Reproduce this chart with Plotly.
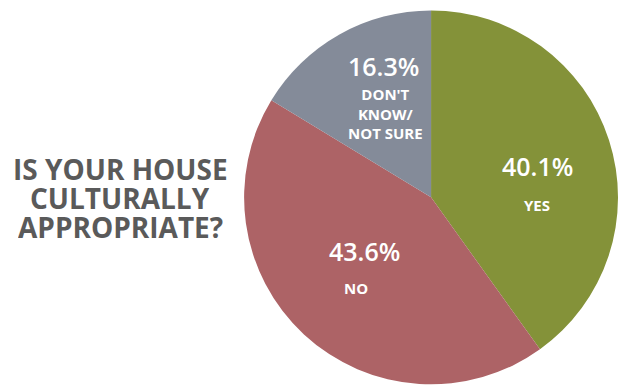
import plotly.graph_objects as go

# Survey responses
labels = ["YES", "NO", "DON'T<br>KNOW/<br>NOT SURE"]
shares = [40.1, 43.6, 16.3]
colors = ["#849239", "#ad6366", "#848b99"]
title_lines = ["IS YOUR HOUSE", "CULTURALLY", "APPROPRIATE?"]

W, H = 618, 387

fig = go.Figure(
    go.Pie(
        labels=labels,
        values=shares,
        sort=False,
        direction="clockwise",
        rotation=0,
        marker=dict(colors=colors, line=dict(width=0)),
        textinfo="none",
        hoverinfo="label+value",
        domain=dict(x=[0.395, 1.0], y=[0.0, 0.98]),
        showlegend=False,
    )
)


def px(x, y):
    return x / W, 1 - y / H


annotations = []

# Question text on the left, one fixed-height box per line for tight leading
for line, ly in zip(title_lines, [169, 197, 226]):
    tx, ty = px(120, ly)
    annotations.append(dict(
        x=tx, y=ty, xref="paper", yref="paper",
        text=f"<b>{line}</b>", height=27, valign="middle",
        showarrow=False, align="center", xanchor="center", yanchor="middle",
        font=dict(family="Open Sans", size=28, color="#5a5a5a"),
    ))

# Slice labels: percent value plus category name
label_pos = [
    ((537, 166), (537, 205)),
    ((364, 251), (356, 288)),
    ((383, 66), (385, 113)),
]
for lab, val, (pp, lp) in zip(labels, shares, label_pos):
    x1, y1 = px(*pp)
    annotations.append(dict(
        x=x1, y=y1, xref="paper", yref="paper",
        text=f"{val:.1f}%", showarrow=False,
        xanchor="center", yanchor="middle",
        font=dict(family="Open Sans", size=25, color="white", weight=600),
    ))
    x2, y2 = px(*lp)
    annotations.append(dict(
        x=x2, y=y2, xref="paper", yref="paper",
        text=f"<b>{lab}</b>", showarrow=False, align="center",
        xanchor="center", yanchor="middle",
        font=dict(family="Open Sans", size=15, color="white"),
    ))

fig.update_layout(
    width=W, height=H,
    margin=dict(l=0, r=0, t=0, b=0),
    paper_bgcolor="white",
    plot_bgcolor="white",
    annotations=annotations,
)

fig.write_html("out.html")
